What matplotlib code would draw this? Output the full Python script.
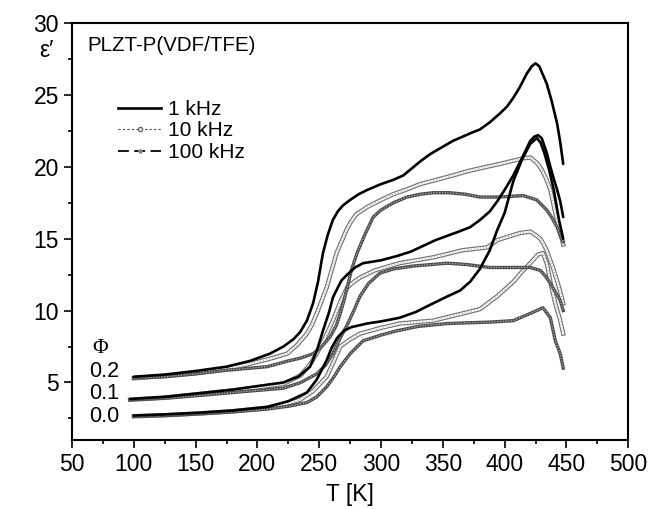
import matplotlib
matplotlib.use("Agg")
import matplotlib.pyplot as plt
from matplotlib.lines import Line2D
from matplotlib.ticker import MultipleLocator

# ---------------- data ----------------
# Phi = 0.2
T02_1k = [100,125,150,175,194,210,221,229,234.5,240,245,249,253,257,261,265,269,275,282,289,300,310,318,325,332,340,350,358,366,374,380,388,396,402,407,412,418,422,425,428,431,434,438,442.5,445,447.4]
E02_1k = [5.4,5.55,5.8,6.1,6.5,7.0,7.5,8.0,8.5,9.3,10.5,12.0,14.0,15.3,16.3,16.9,17.3,17.7,18.1,18.4,18.8,19.1,19.4,19.9,20.4,20.9,21.4,21.8,22.1,22.4,22.6,23.1,23.7,24.2,24.8,25.5,26.5,27.0,27.2,27.0,26.4,25.8,24.6,23.0,21.7,20.2]
T02_10k = [100,125,150,175,194,210,224,232,240,244,248,252,256,260,264,267,272,275,280,288.7,300,310,320,331.6,345,358,370,380,396,408,415,421,427,430,433,437,441,445,447.4]
E02_10k = [5.3,5.45,5.65,5.95,6.3,6.65,7.0,7.6,8.4,9.0,9.8,10.7,11.6,12.8,14.0,14.6,15.6,16.1,16.7,17.2,17.7,18.1,18.4,18.8,19.1,19.4,19.7,19.9,20.2,20.45,20.6,20.65,20.2,19.8,19.3,18.4,16.8,15.4,14.6]
T02_100k = [100,125,150,175,208,225,235,245,252,259,264,267,270,272.6,276,280.6,287,293.6,300,310,321,332,342,355,368,380,395,415,426,434,438,442.5,445,447.4]
E02_100k = [5.3,5.4,5.6,5.85,6.1,6.5,6.7,7.0,7.5,8.2,9.0,9.8,10.7,11.6,12.8,14.0,15.3,16.5,17.0,17.5,17.9,18.1,18.2,18.2,18.1,17.9,17.9,18.0,17.7,17.0,16.5,15.8,15.2,14.8]

# Phi = 0.1
T01_1k = [97,125,153.6,180,200,221,233,242.6,248,253,258,261,265,268,272.6,279,285.5,300,313,324,334,344,353.5,363,372,380,388,394,400,407,414,420.7,424,427,430,434,437,440,442.5,445,447.4]
E01_1k = [3.85,4.0,4.26,4.5,4.75,5.0,5.4,6.1,7.2,8.6,9.9,10.9,11.6,12.1,12.5,13.0,13.3,13.5,13.8,14.1,14.5,14.9,15.2,15.5,15.8,16.3,16.9,17.6,18.4,19.4,20.6,21.8,22.1,22.2,22.0,21.0,20.0,19.1,18.4,17.6,16.5]
T01_10k = [97,125,153.6,180,200,221,235,242,248,254,261,267,272.6,278,283,295,315,342,366,386,394,405,412.6,420.7,426,428.8,431,434,436.5,439,442,445,447.4]
E01_10k = [3.8,3.95,4.2,4.45,4.65,4.9,5.5,6.2,7.0,8.0,9.3,10.6,11.6,12.0,12.3,12.8,13.3,13.7,14.2,14.4,14.9,15.2,15.4,15.5,15.2,15.0,14.7,14.2,13.6,13.0,12.2,11.3,10.5]
T01_100k = [97,125,153.6,180,200,221,235,248,255,261,267,272.6,278,283,290,299,310,326,340,353.5,370,388,405,420.7,428.8,433,437,441,445,447.4]
E01_100k = [3.8,3.9,4.1,4.3,4.45,4.6,5.0,5.6,6.2,7.0,8.1,9.0,10.0,11.0,11.9,12.6,12.9,13.1,13.2,13.3,13.2,13.0,13.0,13.0,12.8,12.4,11.9,11.3,10.7,10.0]

# Phi = 0.0
T00_1k = [100,125,153.6,180,208,225,240,248,256,260,264.5,270,276,288.7,300,315,328,342,354,364,372,380,388,394,400,407,414,420.7,426,429,432,436,440,444,447.4]
E00_1k = [2.7,2.78,2.9,3.05,3.3,3.7,4.3,5.2,6.55,7.4,8.1,8.6,8.85,9.1,9.25,9.5,9.9,10.5,11.0,11.4,12.0,12.9,14.2,15.6,16.8,19.0,20.5,21.6,22.0,21.7,21.0,19.8,18.3,16.3,15.0]
T00_10k = [100,125,153.6,180,208,225,234.5,245,256,262,267,275,283,300,315,342,366,380,394,407,414,420.7,427,431,434,438,441,445,447.4]
E00_10k = [2.65,2.72,2.85,3.0,3.25,3.55,3.8,4.4,5.4,6.5,7.5,8.0,8.4,8.8,9.1,9.3,9.8,10.1,11.0,12.0,12.7,13.3,13.9,14.0,13.3,11.6,10.5,9.3,8.4]
T00_100k = [100,125,153.6,180,208,225,240,248,256,262,267,275,285.5,300,313,330,353.5,370,388,407,420.7,431,437,441,445,447.4]
E00_100k = [2.65,2.7,2.82,2.95,3.15,3.35,3.6,4.0,4.7,5.4,6.1,7.0,7.9,8.3,8.6,8.9,9.1,9.15,9.2,9.3,9.8,10.2,9.5,7.9,7.0,6.0]

freq_labels = ["1 kHz", "10 kHz", "100 kHz"]
phi_labels = ["0.2", "0.1", "0.0"]
x_ticks = [50, 100, 150, 200, 250, 300, 350, 400, 450, 500]
y_ticks = [5, 10, 15, 20, 25, 30]

# ---------------- figure ----------------
plt.rcParams['font.family'] = ['Liberation Sans', 'DejaVu Sans']
fig = plt.figure(figsize=(6.49, 5.09), dpi=100)
ax = fig.add_axes([0.111, 0.1356, 0.857, 0.819])

def draw_1k(T, E):
    ax.plot(T, E, color='black', lw=1.9, solid_capstyle='round', zorder=5)

def draw_10k(T, E):
    ax.plot(T, E, color='0.45', lw=3.2, zorder=3)
    ax.plot(T, E, color='white', lw=1.5, zorder=3.1)
    ax.plot(T, E, color='0.55', lw=0.7, ls=(0, (0.8, 2.4)), zorder=3.2)

def draw_100k(T, E):
    ax.plot(T, E, color='0.3', lw=2.4, zorder=4)
    ax.plot(T, E, color='0.75', lw=0.8, ls=(0, (1, 1.5)), zorder=4.1)

draw_1k(T02_1k, E02_1k)
draw_10k(T02_10k, E02_10k)
draw_100k(T02_100k, E02_100k)
draw_1k(T01_1k, E01_1k)
draw_10k(T01_10k, E01_10k)
draw_100k(T01_100k, E01_100k)
draw_1k(T00_1k, E00_1k)
draw_10k(T00_10k, E00_10k)
draw_100k(T00_100k, E00_100k)

ax.set_xlim(50, 500)
ax.set_ylim(1, 30)
ax.set_xticks(x_ticks)
ax.set_yticks(y_ticks)
ax.xaxis.set_minor_locator(MultipleLocator(25))
ax.yaxis.set_minor_locator(MultipleLocator(2.5))
ax.tick_params(which='major', direction='out', length=5.5, width=1.2, labelsize=16.5, pad=4)
ax.tick_params(which='minor', direction='out', length=3, width=1.2)
for s in ax.spines.values():
    s.set_linewidth(1.5)

ax.set_xlabel("T [K]", fontsize=16.5, labelpad=5)
fig.text(0.071, 0.9, "ε′", fontsize=16.5, ha='center', va='center')

ax.text(0.027, 0.947, "PLZT-P(VDF/TFE)", transform=ax.transAxes, fontsize=14.8, ha='left', va='center')

handles = [
    Line2D([], [], color='black', lw=1.9),
    Line2D([], [], color='0.3', lw=0.8, ls=(0, (2, 2)), marker='o', markersize=3,
           markerfacecolor='white', markeredgecolor='0.4', markevery=[1]),
    Line2D([], [], color='black', lw=1.3, ls=(0, (6, 3)), marker='*', markersize=3,
           markerfacecolor='0.5', markeredgecolor='0.5', markevery=[1]),
]
for h in handles:
    h.set_data([0, 0.5, 1], [0, 0, 0])
leg = ax.legend(handles, freq_labels, loc='upper left', bbox_to_anchor=(0.068, 0.836),
                frameon=False, fontsize=15, handlelength=2.05, handletextpad=0.35,
                labelspacing=0.12, borderaxespad=0)

fig.text(0.154, 0.316, "Φ", fontsize=15.5, family=['Liberation Serif', 'DejaVu Serif'], ha='center', va='center')
for lab, yy in zip(phi_labels, [0.271, 0.226, 0.182]):
    fig.text(0.137, yy, lab, fontsize=15.5, ha='left', va='center')

fig.savefig("out.png", dpi=100)
